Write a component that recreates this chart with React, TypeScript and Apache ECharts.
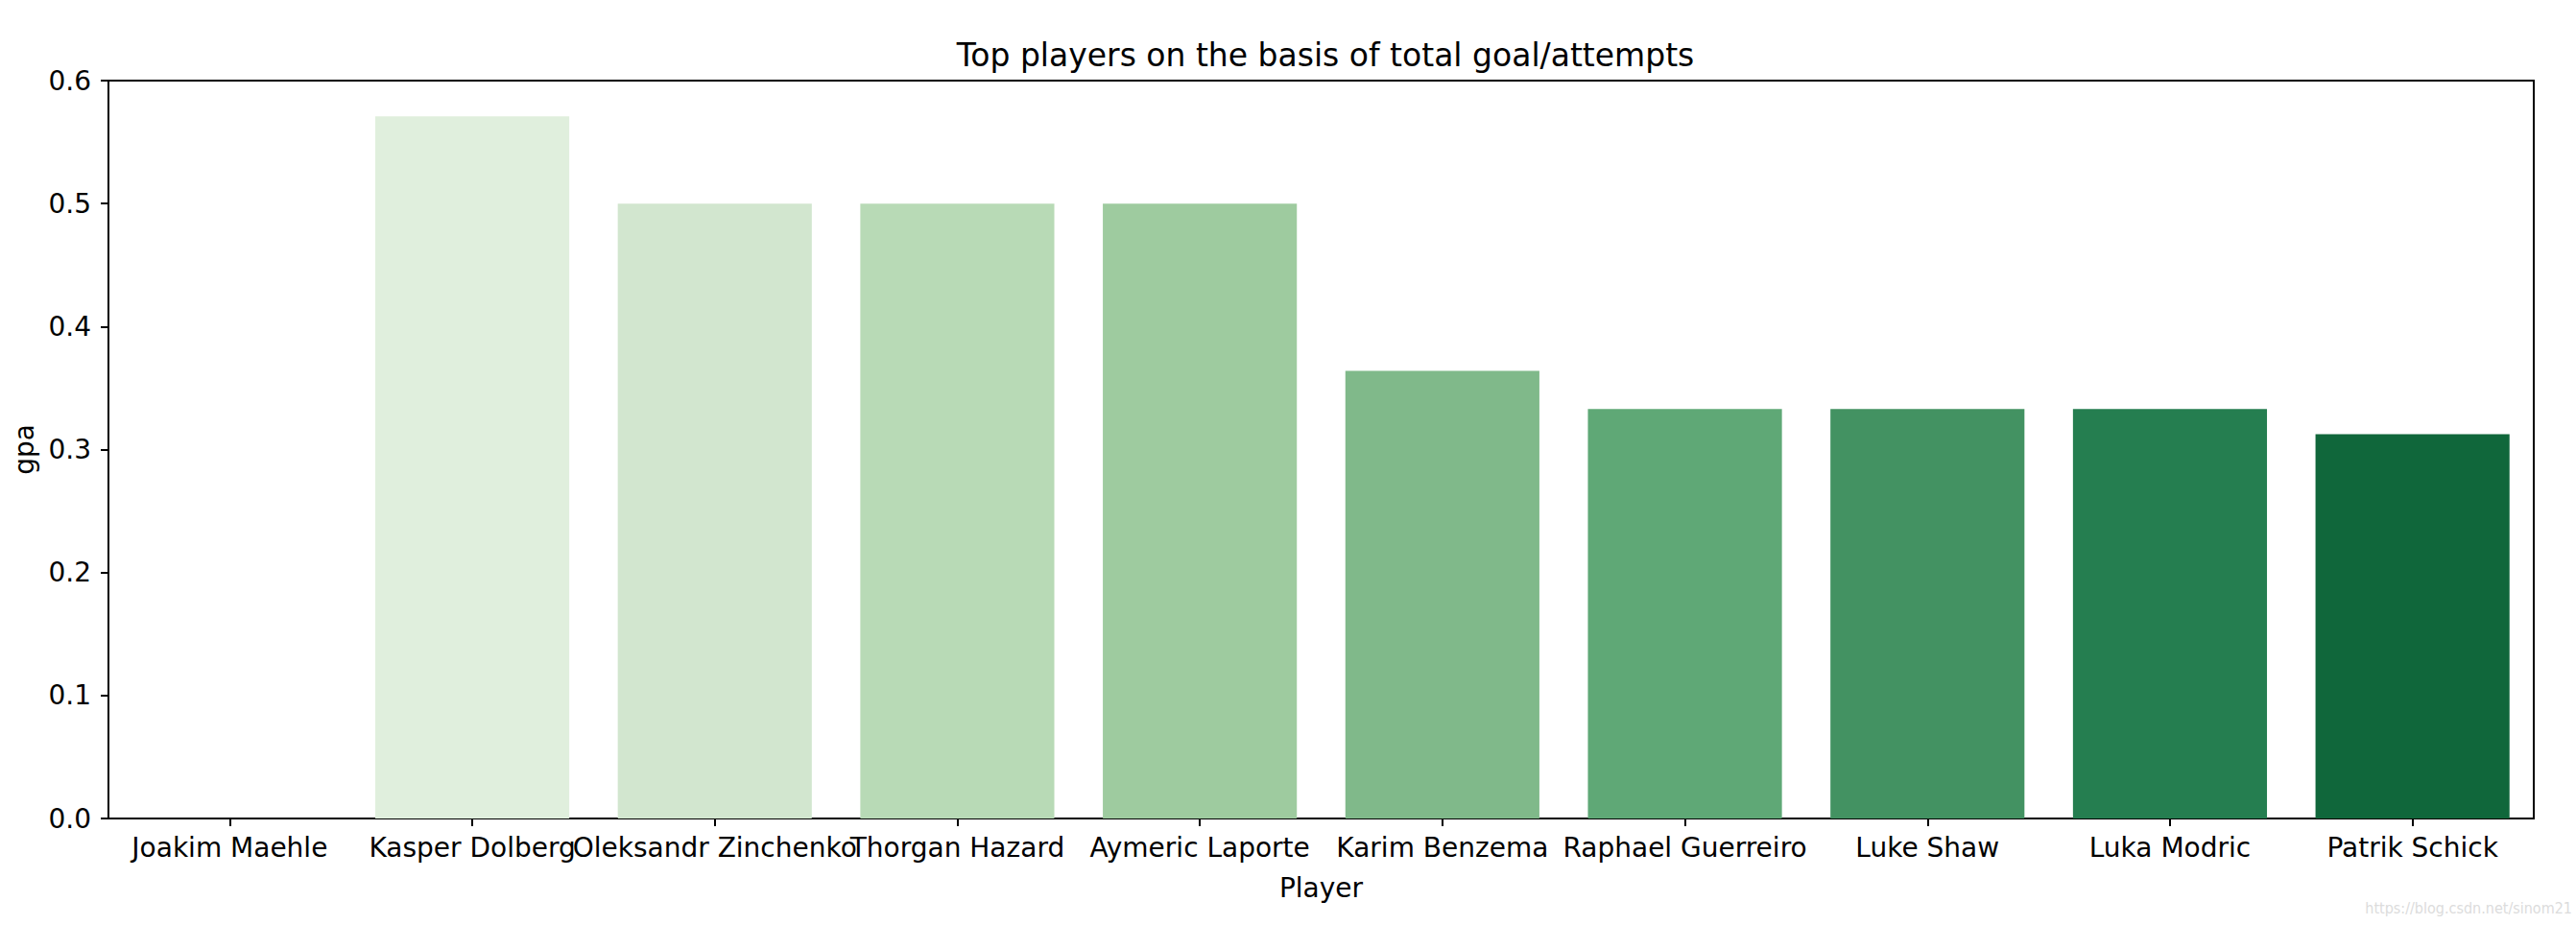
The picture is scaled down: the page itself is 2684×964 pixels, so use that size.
import React, { useEffect, useRef } from "react";
import * as echarts from "echarts";

const players = [
  "Joakim Maehle",
  "Kasper Dolberg",
  "Oleksandr Zinchenko",
  "Thorgan Hazard",
  "Aymeric Laporte",
  "Karim Benzema",
  "Raphael Guerreiro",
  "Luke Shaw",
  "Luka Modric",
  "Patrik Schick",
];
// goals per attempt; first player has no finite bar drawn (null)
const gpa: (number | null)[] = [null, 0.571, 0.5, 0.5, 0.5, 0.364, 0.333, 0.333, 0.333, 0.3125];
const barColors = [
  "#f1f8ef",
  "#e0efdd",
  "#d2e6cf",
  "#b8dab6",
  "#9ecb9f",
  "#80b98a",
  "#5fa876",
  "#439262",
  "#257e50",
  "#10673b",
];
const yTicks = [0, 0.1, 0.2, 0.3, 0.4, 0.5, 0.6];

const FONT = "DejaVu Sans";

export default function App() {
  const ref = useRef<HTMLDivElement>(null);
  useEffect(() => {
    document.body.style.margin = "0";
    const chart = echarts.init(ref.current!, undefined, { renderer: "svg" });
    chart.setOption({
      animation: false,
      backgroundColor: "#ffffff",
      title: {
        text: "Top players on the basis of total goal/attempts",
        left: 1376,
        top: 36,
        textAlign: "center",
        textStyle: { fontFamily: FONT, fontSize: 33, fontWeight: "normal", color: "#000" },
      },
      grid: {
        left: 113,
        right: 44,
        top: 84,
        bottom: 111,
        show: true,
        borderColor: "#000",
        borderWidth: 2,
        backgroundColor: "transparent",
      },
      xAxis: {
        type: "category",
        data: players,
        name: "Player",
        nameLocation: "middle",
        nameGap: 58,
        nameTextStyle: { fontFamily: FONT, fontSize: 28, color: "#000" },
        axisLine: { show: true, lineStyle: { color: "#000", width: 2 } },
        axisTick: { show: true, alignWithLabel: true, length: 8, lineStyle: { color: "#000", width: 2 } },
        axisLabel: { interval: 0, fontFamily: FONT, fontSize: 28, color: "#000", margin: 16 },
        splitLine: { show: false },
      },
      yAxis: {
        type: "value",
        min: 0,
        max: yTicks[yTicks.length - 1],
        interval: 0.1,
        name: "gpa",
        nameLocation: "middle",
        nameGap: 73,
        nameTextStyle: { fontFamily: FONT, fontSize: 28, color: "#000" },
        axisLine: { show: true, lineStyle: { color: "#000", width: 2 } },
        axisTick: { show: true, length: 8, lineStyle: { color: "#000", width: 2 } },
        axisLabel: {
          fontFamily: FONT,
          fontSize: 28,
          color: "#000",
          margin: 18,
          formatter: (v: number) => v.toFixed(1),
        },
        splitLine: { show: false },
      },
      series: [
        {
          type: "bar",
          barCategoryGap: "20%",
          data: gpa.map((v, i) => ({ value: v, itemStyle: { color: barColors[i] } })),
        },
      ],
      graphic: [
        {
          type: "text",
          right: 4,
          bottom: 10,
          style: {
            text: "https://blog.csdn.net/sinom21",
            fontFamily: "Liberation Sans Narrow, DejaVu Sans Condensed, sans-serif",
            fontSize: 16,
            fill: "#dcdcdc",
          },
        },
      ],
    });
    return () => chart.dispose();
  }, []);
  return <div ref={ref} style={{ width: 2684, height: 964 }} />;
}
